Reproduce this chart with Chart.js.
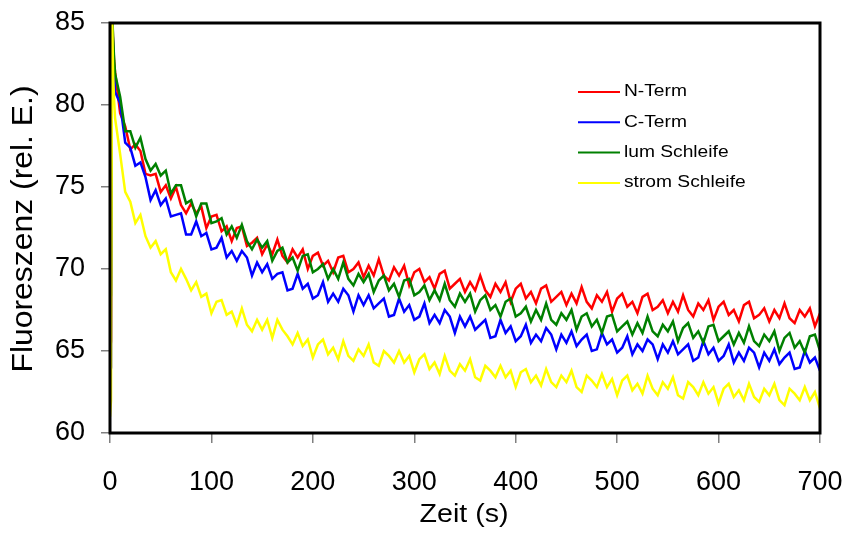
<!DOCTYPE html>
<html lang="de">
<head>
<meta charset="UTF-8">
<title>Fluoreszenz</title>
<script src="https://cdn.jsdelivr.net/npm/chart.js"></script>
<style>
  body { margin: 0; background: #fff; }
  #wrap { width: 845px; height: 533px; }
</style>
</head>
<body>
<div id="wrap"><canvas id="chart" width="845" height="533"></canvas></div>
<script>
// Zeitachse (s)
const times = [0, 1, 2, 3, 4,
  5, 10, 15, 20, 25, 30, 35, 40, 45, 50, 55, 60, 65, 70, 75, 80, 85, 90, 95, 100,
  105, 110, 115, 120, 125, 130, 135, 140, 145, 150, 155, 160, 165, 170, 175, 180, 185, 190, 195, 200,
  205, 210, 215, 220, 225, 230, 235, 240, 245, 250, 255, 260, 265, 270, 275, 280, 285, 290, 295, 300,
  305, 310, 315, 320, 325, 330, 335, 340, 345, 350, 355, 360, 365, 370, 375, 380, 385, 390, 395, 400,
  405, 410, 415, 420, 425, 430, 435, 440, 445, 450, 455, 460, 465, 470, 475, 480, 485, 490, 495, 500,
  505, 510, 515, 520, 525, 530, 535, 540, 545, 550, 555, 560, 565, 570, 575, 580, 585, 590, 595, 600,
  605, 610, 615, 620, 625, 630, 635, 640, 645, 650, 655, 660, 665, 670, 675, 680, 685, 690, 695, 700];

const nTerm = [65.0, 65.6, 86.0, 84.0, 82.7,
  82.0, 79.5, 78.7, 77.3, 77.6, 77.2, 75.8, 75.7, 75.8, 74.7, 75.1, 74.3, 75.0, 73.9, 73.4, 74.0, 73.4, 73.8, 72.5, 73.2,
  73.3, 72.3, 72.6, 71.7, 72.5, 72.6, 71.4, 71.6, 71.9, 70.9, 71.5, 70.9, 71.8, 70.8, 70.4, 71.2, 70.7, 71.2, 70.0, 70.8,
  71.0, 70.2, 70.5, 69.8, 70.7, 70.8, 69.8, 70.0, 70.4, 69.5, 70.2, 69.6, 70.6, 69.6, 69.3, 70.1, 69.6, 70.2, 69.0, 69.8,
  70.0, 69.2, 69.5, 68.8, 69.7, 69.9, 68.8, 69.1, 69.4, 68.6, 69.2, 68.7, 69.6, 68.7, 68.3, 69.1, 68.6, 69.2, 68.0, 68.8,
  69.1, 68.2, 68.6, 67.9, 68.8, 69.0, 68.0, 68.3, 68.6, 67.8, 68.5, 67.9, 68.9, 68.0, 67.6, 68.4, 68.0, 68.6, 67.4, 68.2,
  68.5, 67.7, 68.0, 67.3, 68.3, 68.5, 67.5, 67.7, 68.1, 67.3, 68.0, 67.4, 68.4, 67.5, 67.1, 67.9, 67.5, 68.1, 66.9, 67.7,
  68.0, 67.2, 67.5, 66.8, 67.8, 68.0, 67.0, 67.2, 67.6, 66.8, 67.5, 67.0, 67.9, 67.0, 66.7, 67.5, 67.1, 67.6, 66.5, 67.3];

const cTerm = [63.5, 64.0, 86.0, 83.5, 82.0,
  80.8, 80.1, 77.7, 77.4, 76.3, 76.5, 75.6, 74.2, 74.8, 73.9, 74.3, 73.2, 73.3, 73.4, 72.1, 72.1, 72.9, 72.0, 72.2, 71.2,
  71.3, 71.9, 70.7, 71.1, 70.5, 71.1, 70.7, 69.6, 70.4, 69.8, 70.3, 69.4, 69.7, 69.8, 68.7, 68.8, 69.7, 68.8, 69.1, 68.2,
  68.4, 69.2, 68.0, 68.5, 68.0, 68.8, 68.4, 67.4, 68.4, 67.8, 68.4, 67.6, 67.9, 68.2, 67.1, 67.2, 68.2, 67.4, 67.8, 66.9,
  67.1, 67.9, 66.7, 67.2, 66.7, 67.5, 67.1, 66.1, 67.1, 66.5, 67.1, 66.3, 66.6, 66.9, 65.8, 65.9, 66.9, 66.1, 66.5, 65.6,
  65.9, 66.6, 65.5, 66.0, 65.6, 66.4, 66.0, 65.1, 66.0, 65.5, 66.2, 65.3, 65.7, 66.0, 65.0, 65.1, 66.1, 65.4, 65.7, 64.9,
  65.2, 65.9, 64.8, 65.4, 65.0, 65.7, 65.4, 64.5, 65.4, 64.9, 65.6, 64.8, 65.1, 65.4, 64.4, 64.6, 65.6, 64.8, 65.2, 64.4,
  64.7, 65.4, 64.3, 64.9, 64.4, 65.2, 64.9, 64.0, 64.9, 64.4, 65.1, 64.2, 64.6, 64.9, 63.9, 64.0, 65.0, 64.3, 64.6, 63.8];

const lumSchleife = [68.0, 68.4, 86.0, 84.2, 82.9,
  81.9, 80.5, 78.4, 78.4, 77.4, 78.0, 76.7, 76.0, 76.4, 75.7, 76.0, 74.6, 75.1, 75.1, 74.0, 74.2, 73.2, 74.0, 74.0, 72.8,
  72.9, 73.1, 72.1, 72.6, 71.9, 72.7, 71.7, 71.2, 71.8, 71.3, 71.7, 70.5, 71.1, 71.3, 70.4, 70.7, 69.9, 70.8, 70.9, 69.8,
  70.0, 70.3, 69.4, 70.0, 69.4, 70.4, 69.4, 69.0, 69.7, 69.2, 69.7, 68.6, 69.3, 69.6, 68.7, 69.1, 68.3, 69.3, 69.4, 68.4,
  68.6, 69.0, 68.1, 68.7, 68.1, 69.1, 68.1, 67.7, 68.5, 68.0, 68.5, 67.4, 68.1, 68.4, 67.5, 67.8, 67.1, 68.0, 68.2, 67.1,
  67.3, 67.7, 66.8, 67.5, 66.9, 67.9, 66.9, 66.6, 67.3, 66.9, 67.5, 66.3, 67.1, 67.3, 66.5, 66.9, 66.1, 67.1, 67.2, 66.2,
  66.5, 66.8, 66.0, 66.7, 66.1, 67.1, 66.2, 65.9, 66.6, 66.2, 66.8, 65.6, 66.4, 66.7, 65.8, 66.2, 65.5, 66.5, 66.6, 65.6,
  65.9, 66.2, 65.4, 66.1, 65.5, 66.5, 65.6, 65.3, 66.0, 65.6, 66.2, 65.0, 65.8, 66.1, 65.2, 65.6, 64.9, 65.9, 66.0, 65.0];

const stromSchleife = [61.0, 62.0, 86.0, 82.0, 80.3,
  79.2, 77.0, 74.7, 74.1, 72.8, 73.3, 72.0, 71.3, 71.7, 70.9, 71.2, 69.8, 69.3, 70.0, 69.4, 68.7, 69.2, 68.3, 68.5, 67.3,
  68.0, 68.1, 67.2, 67.4, 66.6, 67.6, 66.6, 66.2, 66.9, 66.3, 66.9, 65.8, 66.9, 66.3, 65.9, 65.4, 66.1, 65.3, 65.7, 64.6,
  65.4, 65.7, 64.8, 65.2, 64.5, 65.6, 64.7, 64.4, 65.1, 64.7, 65.4, 64.3, 64.1, 65.0, 64.7, 64.3, 65.0, 64.3, 64.7, 63.7,
  64.5, 64.8, 63.9, 64.3, 63.6, 64.7, 63.8, 63.5, 64.2, 63.8, 64.5, 63.4, 63.2, 64.1, 63.8, 63.4, 64.1, 63.4, 63.8, 62.8,
  63.7, 63.9, 63.1, 63.5, 62.9, 63.9, 63.1, 62.8, 63.5, 63.1, 63.8, 62.8, 62.5, 63.5, 63.2, 62.8, 63.6, 62.8, 63.3, 62.3,
  63.2, 63.5, 62.6, 63.0, 62.4, 63.5, 62.7, 62.3, 63.1, 62.7, 63.4, 62.3, 62.1, 63.1, 62.8, 62.3, 63.1, 62.4, 62.8, 61.8,
  62.7, 63.0, 62.2, 62.6, 62.0, 63.0, 62.2, 61.9, 62.7, 62.3, 63.0, 62.0, 61.7, 62.7, 62.4, 62.0, 62.8, 62.0, 62.5, 61.5];

const seriesNames = ["N-Term", "C-Term", "lum Schleife", "strom Schleife"];
const seriesColors = ["#ff0000", "#0000ff", "#008000", "#ffff00"];
const seriesValues = [nTerm, cTerm, lumSchleife, stromSchleife];
const xTitle = "Zeit (s)";
const yTitle = "Fluoreszenz (rel. E.)";

const FONT = "'Liberation Sans', Arial, sans-serif";

// Rahmen, Achsentitel und Legende
const framePlugin = {
  id: "frame",
  afterDatasetsDraw(chart) {
    const { ctx, chartArea: a } = chart;
    ctx.save();
    ctx.strokeStyle = "#000";
    ctx.lineWidth = 3;
    ctx.strokeRect(a.left, a.top, a.right - a.left, a.bottom - a.top);

    ctx.fillStyle = "#000";
    ctx.textAlign = "center";
    ctx.textBaseline = "middle";

    // x-Achsentitel
    ctx.save();
    ctx.translate(464, 515);
    ctx.scale(1.1, 1);
    ctx.font = "26px " + FONT;
    ctx.fillText(xTitle, 0, 0);
    ctx.restore();

    // y-Achsentitel
    ctx.save();
    ctx.translate(24, 229);
    ctx.rotate(-Math.PI / 2);
    ctx.scale(1.1, 1);
    ctx.font = "29px " + FONT;
    ctx.fillText(yTitle, 0, 0);
    ctx.restore();

    // Legende
    ctx.textAlign = "left";
    seriesNames.forEach((name, i) => {
      const y = 92 + i * 30.3;
      ctx.strokeStyle = seriesColors[i];
      ctx.lineWidth = 2;
      ctx.beginPath();
      ctx.moveTo(578, y);
      ctx.lineTo(620, y);
      ctx.stroke();
      ctx.save();
      ctx.translate(624, y);
      ctx.scale(1.2, 1);
      ctx.font = "16px " + FONT;
      ctx.fillText(name, 0, 0);
      ctx.restore();
    });
    ctx.restore();
  }
};

const datasets = seriesNames.map((name, i) => ({
  label: name,
  data: times.map((t, j) => ({ x: t, y: seriesValues[i][j] })),
  borderColor: seriesColors[i],
  borderWidth: 2.5,
  pointRadius: 0,
  tension: 0,
  fill: false,
  order: 4 - i
}));

new Chart(document.getElementById("chart"), {
  type: "line",
  data: { datasets: datasets },
  options: {
    responsive: false,
    animation: false,
    devicePixelRatio: 1,
    layout: { autoPadding: false, padding: { top: 23, right: 25, left: 0, bottom: 0 } },
    plugins: { legend: { display: false }, tooltip: { enabled: false } },
    scales: {
      x: {
        type: "linear",
        min: 0,
        max: 700,
        afterFit: (s) => { s.height = 100; s.paddingLeft = 0; s.paddingRight = 0; },
        ticks: { stepSize: 100, color: "#000", padding: 23, font: { family: FONT, size: 27 } },
        grid: { drawOnChartArea: false, drawTicks: true, tickLength: 10, color: "#808080", lineWidth: 1.5 },
        border: { display: false }
      },
      y: {
        min: 60,
        max: 85,
        afterFit: (s) => { s.width = 110; s.paddingTop = 0; s.paddingBottom = 0; },
        ticks: { stepSize: 5, color: "#000", padding: 16, font: { family: FONT, size: 27 } },
        grid: { drawOnChartArea: false, drawTicks: true, tickLength: 9, color: "#808080", lineWidth: 1.5 },
        border: { display: false }
      }
    }
  },
  plugins: [framePlugin]
});
</script>
</body>
</html>
